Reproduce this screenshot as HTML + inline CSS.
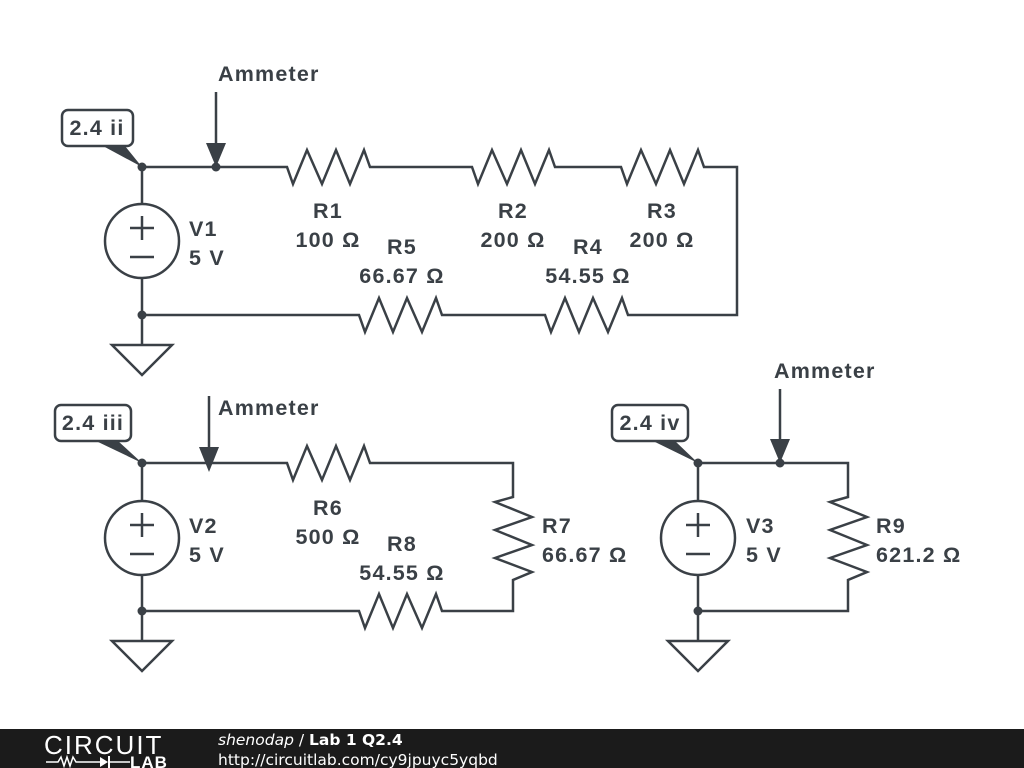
<!DOCTYPE html>
<html><head><meta charset="utf-8"><style>
html,body{margin:0;padding:0;background:#fff;}
svg{display:block;}
text{font-family:"Liberation Sans",Arial,sans-serif;font-weight:bold;fill:#3a4046;}
</style></head><body>
<svg width="1024" height="768" viewBox="0 0 1024 768" xmlns="http://www.w3.org/2000/svg">
<g stroke="#3a4046" stroke-width="2.5" fill="none" stroke-linejoin="miter">
<polyline points="142,204 142,167 287,167 293,184 307,150 322,184 336,150 350,184 364,150 370,167 472,167 478,184 492,150 507,184 521,150 535,184 549,150 555,167 621,167 627,184 641,150 656,184 670,150 684,184 698,150 704,167 737,167 737,315 628,315 622,298 608,332 593,298 579,332 565,298 551,332 545,315 442,315 436,298 422,332 407,298 393,332 379,298 365,332 359,315 142,315 142,278"/>
<circle cx="142" cy="241" r="37"/>
<line x1="130" y1="228" x2="154" y2="228"/><line x1="142" y1="216" x2="142" y2="240"/>
<line x1="130" y1="257" x2="154" y2="257"/>
<polyline points="142,315 142,345"/>
<polygon points="112,345 172,345 142,375"/>
<line x1="216" y1="92" x2="216" y2="150"/>
<polyline points="142,501 142,463 287,463 293,480 307,446 322,480 336,446 350,480 364,446 370,463 513,463 513,497 495,502 532,517 495,530 532,545 495,558 532,572 513,580 513,611 442,611 436,594 422,628 407,594 393,628 379,594 365,628 359,611 142,611 142,575"/>
<circle cx="142" cy="538" r="37"/>
<line x1="130" y1="525" x2="154" y2="525"/><line x1="142" y1="513" x2="142" y2="537"/>
<line x1="130" y1="554" x2="154" y2="554"/>
<polyline points="142,611 142,641"/>
<polygon points="112,641 172,641 142,671"/>
<line x1="209" y1="396" x2="209" y2="450"/>
<polyline points="698,501 698,463 848,463 848,497 830,502 867,517 830,530 867,545 830,558 867,572 848,580 848,611 698,611 698,575"/>
<circle cx="698" cy="538" r="37"/>
<line x1="686" y1="525" x2="710" y2="525"/><line x1="698" y1="513" x2="698" y2="537"/>
<line x1="686" y1="554" x2="710" y2="554"/>
<polyline points="698,611 698,641"/>
<polygon points="668,641 728,641 698,671"/>
<line x1="780" y1="389" x2="780" y2="442"/>
<rect x="62" y="110" width="71" height="36" rx="6" fill="#fff"/>
<rect x="55" y="405" width="76" height="36" rx="6" fill="#fff"/>
<rect x="612" y="405" width="76" height="36" rx="6" fill="#fff"/>
</g>
<g fill="#3a4046">
<polygon points="103,146 125,146 142,167"/>
<polygon points="96,441 118,441 142,463"/>
<polygon points="653,441 675,441 698,463"/>
<polygon points="206,143 226,143 216,167"/>
<polygon points="199,447 219,447 209,472"/>
<polygon points="770,439 790,439 780,463"/>
<circle cx="142" cy="167" r="4.5"/><circle cx="216" cy="167" r="4.5"/><circle cx="142" cy="315" r="4.5"/>
<circle cx="142" cy="463" r="4.5"/><circle cx="142" cy="611" r="4.5"/>
<circle cx="698" cy="463" r="4.5"/><circle cx="780" cy="463" r="4.5"/><circle cx="698" cy="611" r="4.5"/>
</g>
<g font-size="21.5" letter-spacing="1.2">
<text x="218" y="81">Ammeter</text>
<text x="218" y="415">Ammeter</text>
<text x="774" y="378">Ammeter</text>
<text x="97" y="135" text-anchor="middle">2.4 ii</text>
<text x="93" y="430" text-anchor="middle">2.4 iii</text>
<text x="650" y="430" text-anchor="middle">2.4 iv</text>
<text x="189" y="236">V1</text><text x="189" y="265">5 V</text>
<text x="189" y="533">V2</text><text x="189" y="562">5 V</text>
<text x="746" y="533">V3</text><text x="746" y="562">5 V</text>
<g text-anchor="middle">
<text x="328" y="218">R1</text><text x="328" y="247">100 Ω</text>
<text x="513" y="218">R2</text><text x="513" y="247">200 Ω</text>
<text x="662" y="218">R3</text><text x="662" y="247">200 Ω</text>
<text x="402" y="254">R5</text><text x="402" y="283">66.67 Ω</text>
<text x="588" y="254">R4</text><text x="588" y="283">54.55 Ω</text>
<text x="328" y="515">R6</text><text x="328" y="544">500 Ω</text>
<text x="402" y="551">R8</text><text x="402" y="580">54.55 Ω</text>
</g>
<text x="542" y="533">R7</text><text x="542" y="562">66.67 Ω</text>
<text x="876" y="533">R9</text><text x="876" y="562">621.2 Ω</text>
</g>
<rect x="0" y="729" width="1024" height="39" fill="#1b1b1b"/>
<text x="44" y="754" style="font-weight:normal;fill:#fff;font-size:26px;letter-spacing:2px">CIRCUIT</text>
<g stroke="#fff" stroke-width="1.5" fill="none"><polyline points="46,762 58,762 61,757 64,766 67,757 70,766 73,757 76,762 100,762"/></g>
<polygon points="100,757 100,767 108,762" fill="#fff"/><line x1="109" y1="756" x2="109" y2="768" stroke="#fff" stroke-width="2"/>
<line x1="109" y1="762" x2="130" y2="762" stroke="#fff" stroke-width="1.5"/>
<text x="130" y="768" style="fill:#fff;font-size:17px;letter-spacing:1px">LAB</text>
<text x="218" y="745" style="fill:#fff;font-size:15.5px;font-weight:normal;font-family:'DejaVu Sans',sans-serif"><tspan font-style="italic">shenodap</tspan> / <tspan font-weight="bold">Lab 1 Q2.4</tspan></text>
<text x="218" y="765" style="fill:#fff;font-size:15.5px;font-weight:normal;font-family:'DejaVu Sans',sans-serif">http://circuitlab.com/cy9jpuyc5yqbd</text>
</svg>
</body></html>
